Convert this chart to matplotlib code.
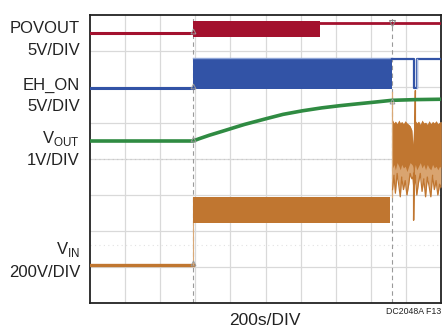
import matplotlib

matplotlib.use("Agg")
import matplotlib.pyplot as plt

RED = "#A3112E"
BLUE = "#3253A6"
GREEN = "#2F8B42"
ORANGE = "#C07630"
GRID = "#D9D9D9"

W, H = 444, 329

# time axis in divisions (10 div), levels in divisions (8 div)
T_TRIG = 2.94
T_END = 8.6

# POVOUT
pov_base = 7.50
pov_block_t = [T_TRIG, 6.54]
pov_block_lo, pov_block_hi = 7.39, 7.83
pov_after = 7.78

# EH_ON
eh_base = 5.97
eh_block_lo, eh_block_hi = 5.95, 6.80
eh_after = 6.78
eh_dip_t = [9.22, 9.31]

# VOUT
vout_t = [0.0, 2.94, 3.1, 3.4, 3.77, 4.1, 4.4, 4.75, 5.06, 5.5, 6.06, 6.6, 7.11, 7.6, 8.11, 8.6, 9.3, 10.0]
vout_v = [4.50, 4.50, 4.56, 4.66, 4.77, 4.87, 4.96, 5.05, 5.13, 5.24, 5.34, 5.42, 5.48, 5.53, 5.58, 5.63, 5.65, 5.66]

# VIN
vin_base = 1.06
vin_block_lo, vin_block_hi = 2.22, 2.94
vin_block_end = 8.55
burst_t = [8.62, 8.66, 8.70, 8.75, 8.80, 8.84, 8.88, 8.93, 8.98, 9.03, 9.08, 9.12,
           9.17, 9.20, 9.23, 9.27, 9.31, 9.36, 9.41, 9.46, 9.51, 9.56, 9.61, 9.66,
           9.71, 9.76, 9.81, 9.86, 9.91, 9.96, 10.0]
burst_hi = [5.08, 5.00, 5.05, 4.98, 5.08, 5.00, 5.04, 4.98, 5.06, 5.00, 4.96, 4.92,
            4.80, 4.40, 5.10, 5.06, 5.00, 5.05, 4.96, 5.08, 5.00, 5.02, 4.96, 5.06,
            4.98, 5.04, 5.00, 5.06, 4.98, 5.02, 5.04]
burst_mid = [3.75, 3.85, 3.70, 3.90, 3.80, 3.70, 3.85, 3.75, 3.80, 3.65, 3.80, 3.90,
             3.85, 3.80, 3.70, 3.85, 3.70, 3.80, 3.90, 3.75, 3.85, 3.70, 3.85, 3.75,
             3.70, 3.85, 3.75, 3.80, 3.70, 3.80, 3.75]
burst_lo = [3.15, 3.55, 3.05, 3.60, 3.25, 2.95, 3.50, 3.15, 3.40, 3.00, 3.30, 3.60,
            3.45, 3.50, 3.15, 3.55, 3.00, 3.35, 3.60, 3.10, 3.45, 2.95, 3.50, 3.25,
            2.95, 3.55, 3.15, 3.40, 3.00, 3.30, 3.20]
spike_t = [9.22, 9.22, 9.27, 9.27]
spike_v = [3.60, 2.30, 5.90, 4.20]

# channel labels: text, baseline pixel row
labels = [("POVOUT", 33), ("5V/DIV", 55),
          ("EH_ON", 90), ("5V/DIV", 111),
          ("V$_{\\mathregular{OUT}}$", 143), ("1V/DIV", 165),
          ("V$_{\\mathregular{IN}}$", 254), ("200V/DIV", 277)]

plt.rcParams["font.family"] = ["Liberation Sans Narrow", "Liberation Sans", "DejaVu Sans"]

fig = plt.figure(figsize=(W / 100, H / 100), dpi=100)
ax = fig.add_axes([90 / W, 26 / H, 351 / W, 288 / H])
ax.set_xlim(0, 10)
ax.set_ylim(0, 8)
ax.set_xticks([])
ax.set_yticks([])
for s in ax.spines.values():
    s.set_linewidth(1.3)
    s.set_color("#222222")

for i in range(1, 10):
    ax.axvline(i, color=GRID, lw=0.9, zorder=0)
for j in range(1, 8):
    ax.axhline(j, color=GRID, lw=0.9, zorder=0)
ax.axhline(4, color="#C8C8C8", lw=0.8, ls=(0, (1, 3)), zorder=0)
ax.axhline(1.6, color="#E2E2E2", lw=0.8, ls=(0, (1, 3)), zorder=0)
ax.axvline(T_TRIG, color="#9A9A9A", lw=0.8, ls=(0, (4, 3)), zorder=1)
ax.axvline(T_END, color="#9A9A9A", lw=0.8, ls=(0, (4, 3)), zorder=1)

# POVOUT
ax.plot([0, T_TRIG], [pov_base, pov_base], color=RED, lw=2.2, zorder=3)
ax.fill_between(pov_block_t, pov_block_lo, pov_block_hi, color=RED, lw=0, zorder=3)
ax.plot([pov_block_t[1], 10], [pov_after, pov_after], color=RED, lw=2.0, zorder=3)

# EH_ON
ax.plot([0, T_TRIG], [eh_base, eh_base], color=BLUE, lw=2.2, zorder=3)
ax.fill_between([T_TRIG, T_END], eh_block_lo, eh_block_hi, color=BLUE, lw=0, zorder=3)
ax.plot([T_TRIG, T_END], [eh_block_hi, eh_block_hi], color="#8FA6D8", lw=1.0, zorder=3)
ax.plot([T_END, eh_dip_t[0], eh_dip_t[0], eh_dip_t[1], eh_dip_t[1], 10],
        [eh_after, eh_after, eh_base, eh_base, eh_after, eh_after],
        color=BLUE, lw=1.6, zorder=3)
ax.plot([eh_dip_t[1], eh_dip_t[1]], [eh_base, eh_after], color="#A9BBE0", lw=1.0, zorder=3)

# VOUT
ax.plot(vout_t, vout_v, color=GREEN, lw=2.6, zorder=4)

# VIN
ax.plot([0, T_TRIG], [vin_base, vin_base], color=ORANGE, lw=2.4, zorder=3)
ax.plot([T_TRIG, T_TRIG], [vin_base, vin_block_hi], color="#D9A977", lw=0.8, zorder=3)
ax.fill_between([T_TRIG, vin_block_end], vin_block_lo, vin_block_hi, color=ORANGE, lw=0, zorder=3)
ax.plot([T_END, T_END], [vin_block_hi, 5.85], color="#D9A977", lw=0.9, zorder=3)
ax.fill_between(burst_t, burst_lo, burst_hi, color="#D9A470", lw=0, zorder=3)
ax.fill_between(burst_t, burst_mid, burst_hi, color=ORANGE, lw=0, zorder=3)
ax.plot(burst_t, burst_lo, color=ORANGE, lw=0.9, zorder=3)
ax.plot(spike_t, spike_v, color=ORANGE, lw=1.0, zorder=3)

# trigger markers
for y in (pov_base, eh_base, vout_v[1], vin_base):
    ax.plot(T_TRIG, y + 0.05, marker="^", ms=3.5, mfc="none", mec="#999999", mew=0.7, zorder=5)
ax.plot(T_END, 7.78, marker="v", ms=4, mfc="none", mec="#888888", mew=0.8, zorder=5)
ax.plot(T_END, 5.6, marker="^", ms=3.5, mfc="none", mec="#999999", mew=0.7, zorder=5)

for txt, y in labels:
    fig.text(80 / W, 1 - y / H, txt, ha="right", va="baseline", fontsize=12, color="#222222")

fig.text(265 / W, 1 - 325 / H, "200s/DIV", ha="center", va="baseline", fontsize=12.5, color="#222222")
fig.text(441 / W, 1 - 314 / H, "DC2048A F13", ha="right", va="baseline", fontsize=6.3, color="#222222")

fig.savefig("out.png", dpi=100)
